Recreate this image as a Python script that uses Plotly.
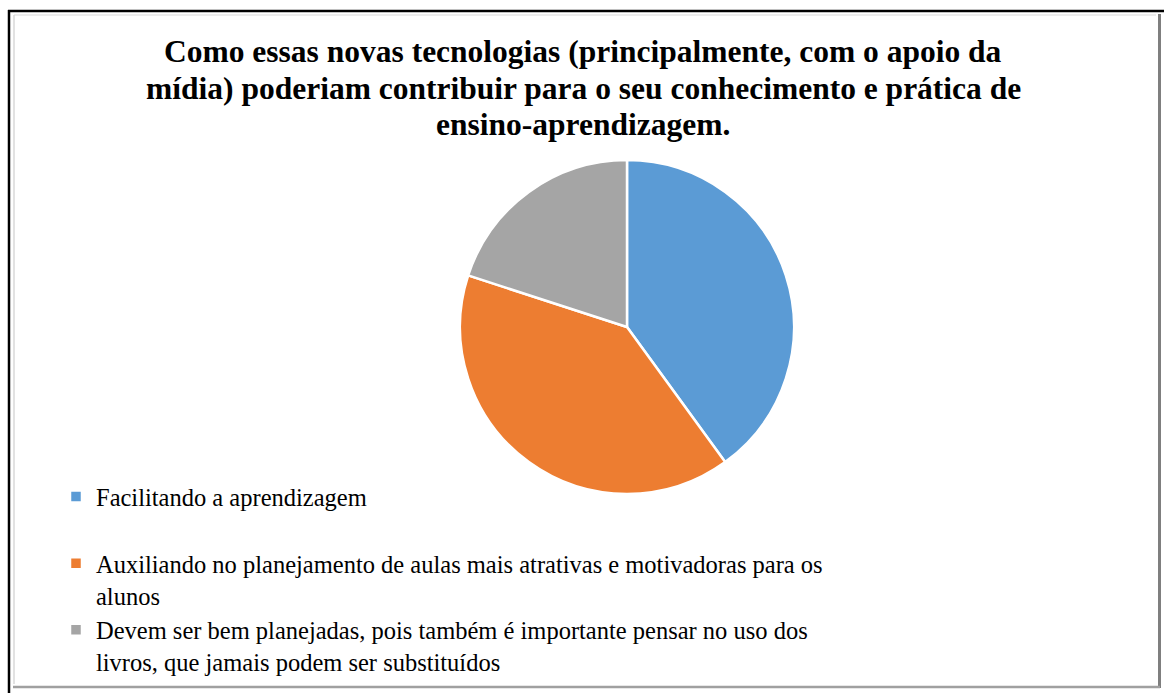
import plotly.graph_objects as go

OFF = 0  # body margin removed via post_script
W, H = 1164, 693

categories = [
    "Facilitando a aprendizagem<br> ",
    "Auxiliando no planejamento de aulas mais atrativas e motivadoras para os<br>alunos",
    "Devem ser bem planejadas, pois também é importante pensar no uso dos<br>livros, que jamais podem ser substituídos",
]
values = [40, 40, 20]
colors = ["#5B9BD5", "#ED7D31", "#A5A5A5"]

title_lines = [
    "Como essas novas tecnologias (principalmente, com o apoio da",
    "mídia) poderiam contribuir para o seu conhecimento e prática de",
    "ensino-aprendizagem.",
]
title_line_y = [52, 88, 124]

def px(x):
    return (x - OFF) / W

def py(y):
    return (H - (y - OFF)) / H

SERIF = "Times New Roman, Liberation Serif, serif"

fig = go.Figure(go.Pie(
    labels=categories,
    values=values,
    sort=False,
    direction="clockwise",
    rotation=0,
    marker=dict(colors=colors, line=dict(color="white", width=2.5)),
    textinfo="none",
    hoverinfo="label+percent",
    domain=dict(x=[px(460), px(794)], y=[py(494), py(160)]),
))

shapes = [
    dict(type="line", x0=px(8), x1=px(1172), y0=py(11), y1=py(11), line=dict(color="black", width=2.5)),
    dict(type="line", x0=px(9), x1=px(9), y0=py(10), y1=py(701), line=dict(color="black", width=2.5)),
    dict(type="line", x0=px(14), x1=px(1156), y0=py(15), y1=py(15), line=dict(color="#E6E6E6", width=1.5)),
    dict(type="line", x0=px(14), x1=px(14), y0=py(15), y1=py(684), line=dict(color="#D9D9D9", width=1.5)),
    dict(type="line", x0=px(1159.5), x1=px(1159.5), y0=py(14), y1=py(688), line=dict(color="#7F7F7F", width=3)),
    dict(type="line", x0=px(13), x1=px(1160), y0=py(687), y1=py(687), line=dict(color="#A0A0A0", width=2.5)),
]

annotations = [
    dict(text=t, x=px(583), y=py(yy), xref="paper", yref="paper",
         xanchor="center", yanchor="middle", showarrow=False,
         font=dict(family=SERIF, size=31.5, color="black", weight="bold"))
    for t, yy in zip(title_lines, title_line_y)
]

fig.update_layout(
    width=W, height=H,
    margin=dict(l=0, r=0, t=0, b=0),
    paper_bgcolor="white",
    plot_bgcolor="white",
    showlegend=True,
    legend=dict(
        x=px(56), y=py(474), xanchor="left", yanchor="top",
        font=dict(family=SERIF, size=24.5, color="black"),
        bgcolor="rgba(0,0,0,0)",
        traceorder="normal",
        valign="top",
        itemclick=False,
    ),
    shapes=shapes,
    annotations=annotations,
)

fig.write_html(
    "out.html",
    config={"displayModeBar": False},
    post_script="document.body.style.margin='0';document.body.style.overflow='hidden';",
)
